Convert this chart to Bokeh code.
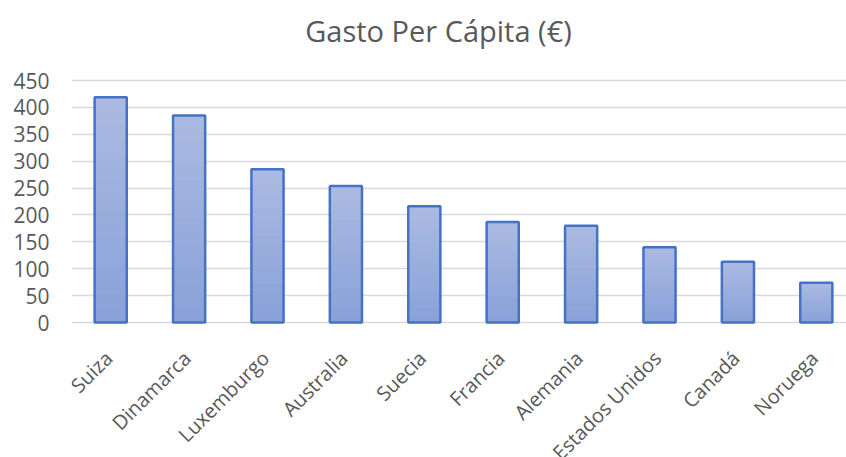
from math import pi
from bokeh.plotting import figure
from bokeh.models import Range1d, FixedTicker, ColumnDataSource
from bokeh.embed import file_html
from bokeh.resources import INLINE

# ---- data ----
paises = ["Suiza", "Dinamarca", "Luxemburgo", "Australia", "Suecia",
          "Francia", "Alemania", "Estados Unidos", "Canadá", "Noruega"]
gasto = [419, 385, 285, 254, 216, 187, 180, 140, 113, 74]
y_ticks = [0, 50, 100, 150, 200, 250, 300, 350, 400, 450]
titulo = "Gasto Per Cápita (€)"

FONT = "Open Sans"
GREY = "#595959"

# ---- layout (pixels) ----
W, H = 846, 457
LEFT = 71                   # left edge of the plotting area
TOP_GRID = 80               # pixel row of the highest tick
ZERO_PX = 322               # pixel row of value 0
TITLE_CX, TITLE_CY = 438, 30

ymax = y_ticks[-1]
px_per_unit = (ZERO_PX - TOP_GRID) / ymax
y_lo = -(H - ZERO_PX) / px_per_unit      # room below 0 for rotated labels
y_hi = ymax + TOP_GRID / px_per_unit     # room above for the title

x = list(range(len(paises)))
x_lo, x_hi = -0.5, len(paises) - 0.615
cat_px = (W - LEFT) / (x_hi - x_lo)
title_x = x_lo + (TITLE_CX - LEFT) / cat_px

p = figure(width=W, height=H, output_backend="svg", toolbar_location=None,
           x_range=Range1d(x_lo, x_hi), y_range=Range1d(y_lo, y_hi))

p.min_border_left = LEFT
p.min_border_right = 0
p.min_border_top = 0
p.min_border_bottom = 0
p.outline_line_color = None
p.background_fill_color = "white"
p.border_fill_color = "white"

# gradient-like fill: stacked bars, light at top, darker at bottom
N = 16
c_top = (0xAB, 0xBA, 0xE2)
c_bot = (0x89, 0xA1, 0xD9)
BW = 0.41
for k in range(N):
    frac = (N - k) / N
    t = (N - k - 0.5) / N  # 1 = top, 0 = bottom
    col = tuple(int(round(c_bot[i] + (c_top[i] - c_bot[i]) * t)) for i in range(3))
    p.vbar(x=x, top=[v * frac for v in gasto], width=BW, bottom=0,
           fill_color="#%02x%02x%02x" % col, line_color=None)

p.vbar(x=x, top=gasto, width=BW, bottom=0, fill_color=None,
       line_color="#4472C4", line_width=2.5)

# y axis
p.yaxis.ticker = FixedTicker(ticks=y_ticks)
p.yaxis.axis_line_color = None
p.yaxis.major_tick_line_color = None
p.yaxis.minor_tick_line_color = None
p.yaxis.major_label_text_font = FONT
p.yaxis.major_label_text_font_size = "21px"
p.yaxis.major_label_text_color = GREY
p.yaxis.major_label_standoff = 16

# x axis: baseline is the 0 grid line; category labels as rotated text
p.xaxis.visible = False
cat_src = ColumnDataSource(dict(x=x, y=[0] * len(x), name=paises))
p.text(x="x", y="y", text="name", source=cat_src,
       angle=pi / 4, text_align="right", text_baseline="middle",
       x_offset=-2, y_offset=32,
       text_font_size="20px", text_color=GREY,
       text_font={"value": FONT})

# chart title
p.text(x=[title_x], y=[y_hi], text=[titulo], text_align="center",
       text_baseline="middle", y_offset=TITLE_CY,
       text_font_size="29px", text_color=GREY, text_font={"value": FONT})

p.xgrid.grid_line_color = None
p.ygrid.grid_line_color = "#d9d9d9"
p.ygrid.grid_line_width = 1.5

open("out.html", "w").write(file_html(p, INLINE))
